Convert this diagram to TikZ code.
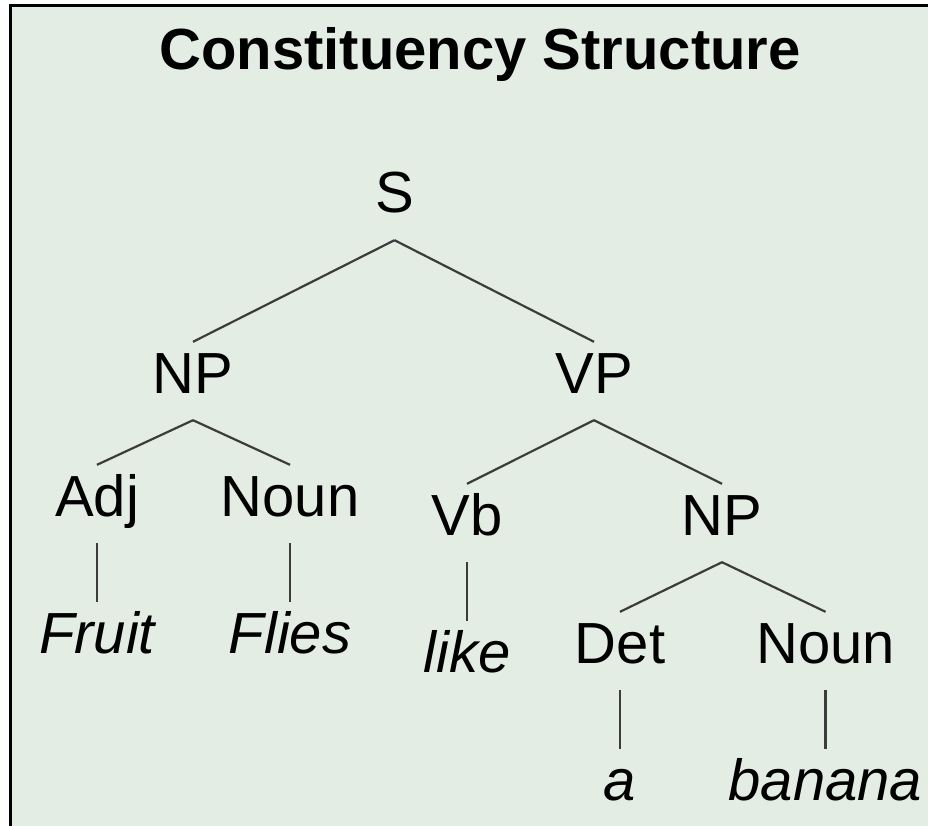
\documentclass[tikz,border=0pt]{standalone}
\usepackage{fontspec}
\setmainfont{Liberation Sans}
\definecolor{panel}{RGB}{227,237,227}
\definecolor{branchgray}{RGB}{60,60,60}
\begin{document}
\begin{tikzpicture}[x=1pt,y=-1pt,
  heading/.style={font=\fontsize{58}{60}\selectfont\bfseries, anchor=base, inner sep=0pt},
  cat/.style={font=\fontsize{58}{60}\selectfont, anchor=base, inner sep=0pt,
              text height=51pt, text depth=27pt},
  word/.style={cat, font=\fontsize{58}{60}\selectfont\itshape},
  branch/.style={draw=branchgray, line width=2.2pt}]
  \useasboundingbox (0,0) rectangle (928,826);
  % panel with its left and top frame
  \fill[panel] (10,6) rectangle (928,826);
  \draw[line width=3pt] (10,826) -- (10,6) -- (928,6);

  \node[heading] (title) at (480,70) {Constituency Structure};

  % categories
  \node[cat] (S)   at (394.5,213) {S};
  \node[cat] (NP)  at (193,393) {NP};
  \node[cat] (VP)  at (594,393) {VP};
  \node[cat] (Adj) at (97,516) {Adj};
  \node[cat] (N1)  at (290,516) {Noun};
  \node[cat] (Vb)  at (467,535) {Vb};
  \node[cat] (NP2) at (722,535) {NP};
  \node[cat] (Det) at (620,663) {Det};
  \node[cat] (N2)  at (825.5,663) {Noun};

  % words
  \node[word] (fruit)  at (97,653) {Fruit};
  \node[word] (flies)  at (290,653) {Flies};
  \node[word] (like)   at (467,672) {like};
  \node[word] (a)      at (620,800) {a};
  \node[word] (banana) at (825.5,800) {banana};

  % branches
  \draw[branch] (S.south) -- (NP.north);
  \draw[branch] (S.south) -- (VP.north);
  \draw[branch] (NP.south) -- (Adj.north);
  \draw[branch] (NP.south) -- (N1.north);
  \draw[branch] (VP.south) -- (Vb.north);
  \draw[branch] (VP.south) -- (NP2.north);
  \draw[branch] (NP2.south) -- (Det.north);
  \draw[branch] (NP2.south) -- (N2.north);
  \draw[branch] (Adj.south) -- (fruit.north);
  \draw[branch] (N1.south) -- (flies.north);
  \draw[branch] (Vb.south) -- (like.north);
  \draw[branch] (Det.south) -- (a.north);
  \draw[branch] (N2.south) -- (banana.north);
\end{tikzpicture}
\end{document}
